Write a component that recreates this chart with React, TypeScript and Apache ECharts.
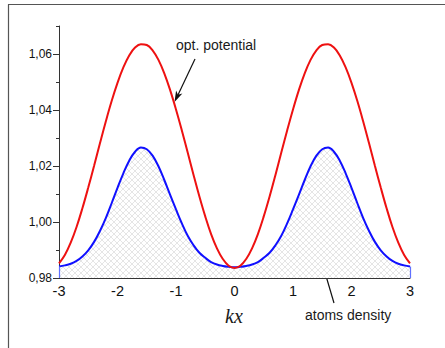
import React, { useEffect, useRef } from "react";
import * as echarts from "echarts";

// kx positions
const xs: number[] = [
  -3.0, -2.9, -2.8, -2.7, -2.6, -2.5, -2.4, -2.3, -2.2, -2.1,
  -2.0, -1.9, -1.8, -1.7, -1.6, -1.5, -1.4, -1.3, -1.2, -1.1,
  -1.0, -0.9, -0.8, -0.7, -0.6, -0.5, -0.4, -0.3, -0.2, -0.1,
  0.0, 0.1, 0.2, 0.3, 0.4, 0.5, 0.6, 0.7, 0.8, 0.9,
  1.0, 1.1, 1.2, 1.3, 1.4, 1.5, 1.6, 1.7, 1.8, 1.9,
  2.0, 2.1, 2.2, 2.3, 2.4, 2.5, 2.6, 2.7, 2.8, 2.9, 3.0,
];

// optical potential (red)
const potential: number[] = [
  0.9852, 0.9882, 0.9926, 0.9982, 1.0049, 1.0123, 1.0201, 1.0281, 1.0359, 1.0432,
  1.0497, 1.0552, 1.0595, 1.0623, 1.0635, 1.0632, 1.0613, 1.0579, 1.0531, 1.0471,
  1.0402, 1.0327, 1.0248, 1.0168, 1.0091, 1.002, 0.9957, 0.9906, 0.9868, 0.9844,
  0.9836, 0.9844, 0.9868, 0.9906, 0.9957, 1.002, 1.0091, 1.0168, 1.0248, 1.0327,
  1.0402, 1.0471, 1.0531, 1.0579, 1.0613, 1.0632, 1.0635, 1.0623, 1.0595, 1.0552,
  1.0497, 1.0432, 1.0359, 1.0281, 1.0201, 1.0123, 1.0049, 0.9982, 0.9926, 0.9882, 0.9852,
];

// atoms density (blue)
const density: number[] = [
  0.9841, 0.9845, 0.9851, 0.9861, 0.9877, 0.9899, 0.9929, 0.9968, 1.0014, 1.0067,
  1.0122, 1.0174, 1.0219, 1.0251, 1.0266, 1.026, 1.0237, 1.0199, 1.015, 1.0097,
  1.0045, 0.9995, 0.9951, 0.9917, 0.989, 0.9872, 0.9857, 0.9848, 0.9843, 0.984,
  0.9838, 0.984, 0.9843, 0.9848, 0.9857, 0.9872, 0.989, 0.9917, 0.9951, 0.9995,
  1.0045, 1.0097, 1.015, 1.0199, 1.0237, 1.026, 1.0266, 1.0251, 1.0219, 1.0174,
  1.0122, 1.0067, 1.0014, 0.9968, 0.9929, 0.9899, 0.9877, 0.9861, 0.9851, 0.9845, 0.9841,
];

const yMin = 0.98;
const yMax = 1.07;
const yMajorTicks: number[] = [0.98, 1.0, 1.02, 1.04, 1.06];

function makeHatch(): HTMLCanvasElement {
  const s = 6;
  const c = document.createElement("canvas");
  c.width = s;
  c.height = s;
  const ctx = c.getContext("2d")!;
  ctx.fillStyle = "#ffffff";
  ctx.fillRect(0, 0, s, s);
  ctx.strokeStyle = "#cfcfcf";
  ctx.lineWidth = 0.55;
  for (const k of [-s, 0, s]) {
    ctx.beginPath();
    ctx.moveTo(-1, -1 + k);
    ctx.lineTo(s + 1, s + 1 + k);
    ctx.stroke();
  }
  for (const k of [0, s, 2 * s]) {
    ctx.beginPath();
    ctx.moveTo(-1, k + 1);
    ctx.lineTo(s + 1, k - s - 1);
    ctx.stroke();
  }
  return c;
}

function arrowHead(tip: [number, number], from: [number, number], len: number, half: number, notch: number) {
  const dx = tip[0] - from[0];
  const dy = tip[1] - from[1];
  const L = Math.sqrt(dx * dx + dy * dy);
  const ux = dx / L;
  const uy = dy / L;
  const nx = -uy;
  const ny = ux;
  const bx = tip[0] - ux * len;
  const by = tip[1] - uy * len;
  const mx = tip[0] - ux * notch;
  const my = tip[1] - uy * notch;
  return [
    [tip[0], tip[1]],
    [bx + nx * half, by + ny * half],
    [mx, my],
    [bx - nx * half, by - ny * half],
  ];
}

export default function App() {
  const ref = useRef<HTMLDivElement>(null);
  useEffect(() => {
    if (!ref.current) return;
    const chart = echarts.init(ref.current, null, { renderer: "svg" });
    const hatch = makeHatch();
    const pot = xs.map((x, i) => [x, potential[i]]);
    const den = xs.map((x, i) => [x, density[i]]);
    const last = xs.length - 1;
    const a1From: [number, number] = [195, 59];
    const a1Tip: [number, number] = [174.5, 102];
    const a2From: [number, number] = [334, 303];
    const a2Tip: [number, number] = [320, 256];
    chart.setOption({
      animation: false,
      backgroundColor: "#ffffff",
      grid: { left: 59, top: 26, width: 351, height: 252, containLabel: false },
      xAxis: {
        type: "value",
        min: -3,
        max: 3,
        interval: 1,
        axisLine: { show: true, onZero: false, lineStyle: { color: "#333333", width: 1 } },
        axisTick: { show: true, inside: true, length: 5, lineStyle: { color: "#333333" } },
        minorTick: { show: true, splitNumber: 2, length: 3, lineStyle: { color: "#333333" } },
        splitLine: { show: false },
        axisLabel: {
          fontSize: 14.5,
          color: "#111111",
          margin: 5,
          fontFamily: "Liberation Sans, Arial, sans-serif",
        },
      },
      yAxis: [
        {
          type: "value",
          min: yMin,
          max: yMax,
          interval: 0.01,
          position: "left",
          axisLine: { show: true, onZero: false, lineStyle: { color: "#333333", width: 1 } },
          axisTick: { show: true, inside: false, length: 3, lineStyle: { color: "#333333" } },
          splitLine: { show: false },
          axisLabel: {
            fontSize: 12,
            color: "#111111",
            margin: 7,
            fontFamily: "Liberation Sans, Arial, sans-serif",
            formatter: (v: number) =>
              Math.round(v * 100) % 2 === 0 && v < 1.065 ? v.toFixed(2).replace(".", ",") : "",
          },
        },
        {
          type: "value",
          min: yMin,
          max: yMax,
          interval: 0.02,
          position: "left",
          offset: 0,
          axisLine: { show: false, onZero: false },
          axisTick: {
            show: true,
            inside: false,
            length: 6,
            customValues: yMajorTicks,
            lineStyle: { color: "#333333" },
          },
          axisLabel: { show: false },
          splitLine: { show: false },
        },
      ],
      series: [
        {
          name: "atoms density",
          type: "line",
          yAxisIndex: 0,
          data: den,
          smooth: 0.4,
          symbol: "none",
          lineStyle: { color: "#1010ff", width: 2 },
          areaStyle: {
            origin: "start",
            color: { image: hatch, repeat: "repeat", imageWidth: 6, imageHeight: 6 },
            opacity: 1,
          },
          markLine: {
            silent: true,
            symbol: ["none", "none"],
            label: { show: false },
            lineStyle: { color: "#6070ff", type: "solid", width: 1.2 },
            data: [
              [{ coord: [xs[0], yMin] }, { coord: [xs[0], density[0]] }],
              [{ coord: [xs[last], yMin] }, { coord: [xs[last], density[last]] }],
            ],
          },
          z: 2,
        },
        {
          name: "opt. potential",
          type: "line",
          yAxisIndex: 0,
          data: pot,
          smooth: 0.4,
          symbol: "none",
          lineStyle: { color: "#ee1111", width: 2 },
          z: 3,
        },
      ],
      graphic: [
        { type: "line", shape: { x1: 8, y1: 4.5, x2: 445, y2: 4.5 }, style: { stroke: "#555555", lineWidth: 1.2 } },
        { type: "line", shape: { x1: 8.5, y1: 4.5, x2: 8.5, y2: 348 }, style: { stroke: "#555555", lineWidth: 1.2 } },
        {
          type: "text",
          style: {
            text: "opt. potential",
            x: 176,
            y: 45,
            textAlign: "left",
            textVerticalAlign: "middle",
            font: '14px "Liberation Sans", Arial, sans-serif',
            fill: "#1a1a1a",
          },
        },
        {
          type: "text",
          style: {
            text: "atoms density",
            x: 305,
            y: 315,
            textAlign: "left",
            textVerticalAlign: "middle",
            font: '14px "Liberation Sans", Arial, sans-serif',
            fill: "#1a1a1a",
          },
        },
        {
          type: "text",
          style: {
            text: "kx",
            x: 234,
            y: 316,
            textAlign: "center",
            textVerticalAlign: "middle",
            font: 'italic 20px "Liberation Serif", "Times New Roman", serif',
            fill: "#1a1a1a",
          },
        },
        {
          type: "line",
          shape: { x1: a1From[0], y1: a1From[1], x2: 177, y2: 97 },
          style: { stroke: "#111111", lineWidth: 1.2 },
        },
        {
          type: "polygon",
          shape: { points: arrowHead(a1Tip, a1From, 11, 3.5, 8) },
          style: { fill: "#111111" },
        },
        {
          type: "line",
          shape: { x1: a2From[0], y1: a2From[1], x2: 321.6, y2: 261 },
          style: { stroke: "#111111", lineWidth: 1.2 },
        },
        {
          type: "polygon",
          shape: { points: arrowHead(a2Tip, a2From, 11, 3.5, 8) },
          style: { fill: "#111111" },
        },
      ],
    });
    return () => chart.dispose();
  }, []);
  return (
    <div
      ref={ref}
      style={{ position: "absolute", left: 0, top: 0, width: 445, height: 348 }}
    />
  );
}
